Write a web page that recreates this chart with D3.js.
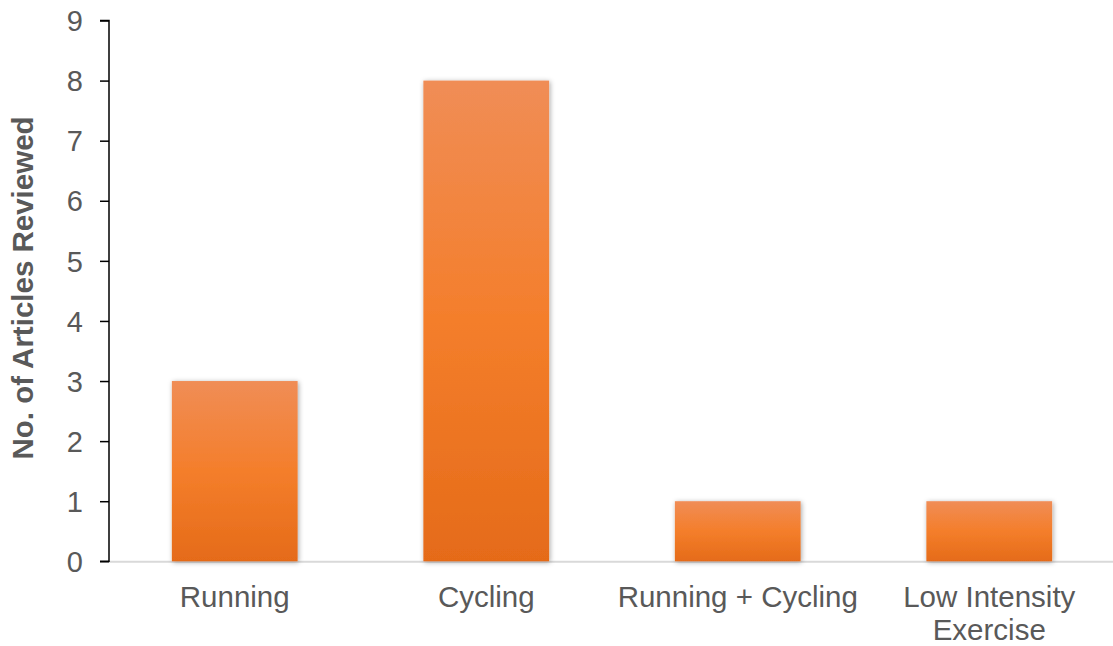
<!DOCTYPE html>
<html><head><meta charset="utf-8">
<script src="https://cdn.jsdelivr.net/npm/d3@7"></script>
<style>body{margin:0;background:#fff;}svg{display:block;}</style>
</head><body>
<svg id="c" width="1113" height="646"></svg>
<script>
const categories = [["Running"], ["Cycling"], ["Running + Cycling"], ["Low Intensity", "Exercise"]];
const values = [3, 8, 1, 1];
const yTicks = [0,1,2,3,4,5,6,7,8,9];
const yTitle = "No. of Articles Reviewed";

const svg = d3.select("#c");
const font = "'Liberation Sans', Arial, sans-serif";
const x = d3.scaleBand().domain(categories.map(d=>d.join(" "))).range([109, 1115]).paddingInner(0.5).paddingOuter(0.25);
const y = d3.scaleLinear().domain([0, 9]).range([561.3, 20.5]);

const defs = svg.append("defs");
const g = defs.append("linearGradient").attr("id","grad").attr("x1",0).attr("y1",0).attr("x2",0).attr("y2",1);
g.append("stop").attr("offset","0%").attr("stop-color","#F08D56");
g.append("stop").attr("offset","50%").attr("stop-color","#F47E2B");
g.append("stop").attr("offset","100%").attr("stop-color","#E56B19");
const f = defs.append("filter").attr("id","sh").attr("x","-20%").attr("y","-20%").attr("width","140%").attr("height","140%");
f.append("feDropShadow").attr("dx",1).attr("dy",1).attr("stdDeviation",2.5).attr("flood-color","#000").attr("flood-opacity",0.35);

// x axis line
svg.append("line").attr("x1",109).attr("x2",1113).attr("y1",y(0)+0.5).attr("y2",y(0)+0.5)
  .attr("stroke","#D9D9D9").attr("stroke-width",2);

// bars
svg.selectAll("rect.bar").data(values).enter().append("rect").attr("class","bar")
  .attr("x",(d,i)=>x(categories[i].join(" ")))
  .attr("width",x.bandwidth())
  .attr("y",d=>y(d))
  .attr("height",d=>y(0)-y(d))
  .attr("fill","url(#grad)")
  .attr("filter","url(#sh)");

// y axis
const yAxis = d3.axisLeft(y).tickValues(yTicks).tickSize(9).tickPadding(17).tickFormat(d3.format("d"));
const ya = svg.append("g").attr("transform","translate(109,0)").call(yAxis);
ya.attr("font-size",null).attr("font-family",null);
ya.select(".domain").attr("stroke","#000").attr("stroke-width",1.5).attr("d","M-9,"+y(9)+"H0V"+y(0)+"H-9");
ya.selectAll(".tick line").attr("stroke","#000").attr("stroke-width",1.5);
ya.selectAll(".tick text").attr("fill","#595959").style("font-family",font).style("font-size","29px").attr("dy","0.35em");

// category labels
categories.forEach((lines,i)=>{
  const cx = x(lines.join(" ")) + x.bandwidth()/2;
  const t = svg.append("text").attr("text-anchor","middle").attr("fill","#595959")
    .style("font-family",font).style("font-size","29.5px");
  lines.forEach((ln,j)=>{
    t.append("tspan").attr("x",cx).attr("y",607 + j*33).text(ln);
  });
});

// y title
svg.append("text").attr("transform","translate(33,288) rotate(-90)")
  .attr("text-anchor","middle").attr("fill","#595959")
  .style("font-family",font).style("font-size","29.5px").style("font-weight","bold")
  .text(yTitle);
</script>
</body></html>
